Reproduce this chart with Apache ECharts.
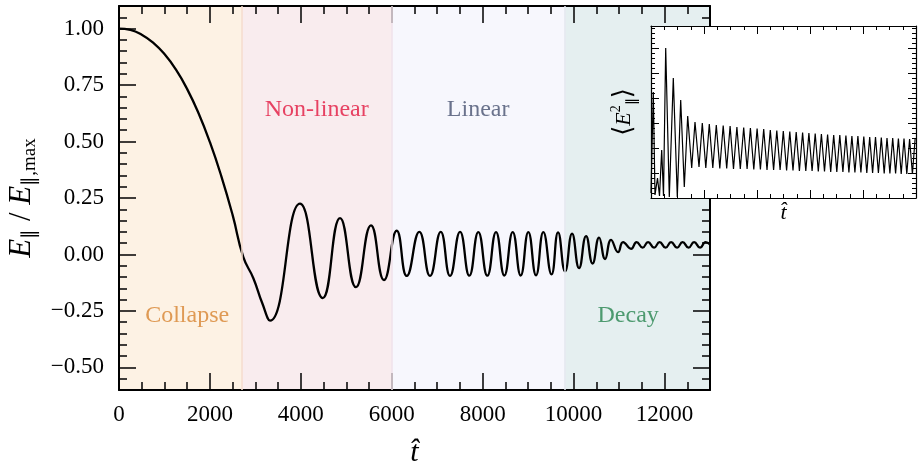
<!DOCTYPE html>
<html>
<head>
<meta charset="utf-8">
<script src="https://cdn.jsdelivr.net/npm/echarts@6/dist/echarts.min.js"></script>
<style>html,body{margin:0;padding:0;background:#fff;}</style>
</head>
<body>
<div id="main" style="width:924px;height:470px;"></div>
<script type="text/javascript">
// main curve E_par / E_par,max against t (extrema + a few shape points)
var tMain = [0, 250, 500, 750, 1000, 1250, 1500, 1750, 2000, 2250, 2500, 2735, 2955, 3150, 3322,
    3982, 4481, 4862, 5213, 5543, 5829, 6109, 6329, 6606, 6841, 7077, 7281,
    7502, 7706, 7904, 8102, 8293, 8476, 8660, 8836, 9004, 9173, 9334, 9514,
    9658, 9812, 9966, 10120, 10274, 10417, 10560, 10692, 10824, 10978, 11088,
    11264, 11385, 11517, 11638, 11770, 11891, 12023, 12144, 12276, 12397,
    12529, 12650, 12782, 12903, 13000];
var eMain = [1.0, 0.994, 0.973, 0.938, 0.887, 0.819, 0.732, 0.625, 0.497, 0.347, 0.174, -0.012, -0.105, -0.215, -0.293,
    0.225, -0.193, 0.161, -0.145, 0.129, -0.113, 0.105, -0.095, 0.100, -0.095, 0.100, -0.095,
    0.100, -0.094, 0.099, -0.094, 0.099, -0.093, 0.099, -0.093, 0.099, -0.092, 0.099, -0.088,
    0.098, -0.075, 0.092, -0.06, 0.081, -0.04, 0.075, -0.02, 0.065, 0.01, 0.055,
    0.025, 0.055, 0.03, 0.055, 0.03, 0.055, 0.03, 0.055, 0.03, 0.055,
    0.03, 0.055, 0.03, 0.055, 0.045];

// inset <E_par^2> against t, arbitrary units (no tick labels on the inset)
var tInset = [0, 2.3, 4, 6.5, 8.5, 10.7, 12.5, 14.7, 18.3, 22.3, 26.3, 29.7, 33.3, 36.7, 40.7, 44, 48,
    51.3, 54.8, 58.3, 61.8, 65.3, 68.8, 72.2, 75.7, 79.1, 82.5, 85.9, 89.3, 92.7, 96.1,
    99.4, 102.8, 106.1, 109.4, 112.7, 116, 119.3, 122.6, 125.8, 129.1, 132.3, 135.6,
    138.8, 142, 145.2, 148.4, 151.6, 154.8, 157.9, 161.1, 164.2, 167.3, 170.4, 173.5,
    176.6, 179.7, 182.7, 185.8, 188.8, 191.9, 194.9, 197.9, 200.9, 203.9, 206.9, 209.9,
    212.8, 215.8, 218.7, 221.6, 224.5, 227.4, 230.3, 233.2, 236, 238.9, 241.7, 244.6,
    247.4, 250.2, 253, 255.8, 258.6, 261.4, 264.1];
var eInset = [5, 106, 3, 20, 2, 48, 2, 150, 1, 120, 1, 98, 11, 82, 30, 76, 31,
    75, 30, 74, 30, 73, 29.5, 72.5, 29.5, 72, 29, 71, 29, 70.5, 29,
    70, 28.5, 69.5, 28.5, 69, 28, 68, 28, 67.5, 28, 67, 27.5,
    66.5, 27.5, 66, 27, 65.5, 27, 65, 27, 64.5, 26.5, 64, 26.5,
    63.5, 26, 63, 26, 63, 26, 62.5, 25.5, 62, 25.5, 62, 25.5,
    61.5, 25, 61, 25, 61, 25, 60.5, 24.5, 60, 24.5, 60, 24.5,
    59.5, 24, 59.5, 24, 59, 24, 59];

var phaseNames = ['Collapse', 'Non-linear', 'Linear', 'Decay'];
var phaseFrom = [0, 2700, 6000, 9800];
var phaseTo = [2700, 6000, 9800, 13000];
var phaseLabelT = [1500, 4350, 7900, 11200];
var phaseLabelE = [-0.27, 0.64, 0.64, -0.27];
var phaseFill = ['#fdf2e4', '#f9ecee', '#f7f7fd', '#e5eff0'];
var phaseEdge = ['#f6dccc', '#f1e2ea', '#e6e8f0', '#e5eff0'];
var phaseText = ['#d7832f', '#e2173f', '#46506f', '#27844f'];

var xTicks = [0, 2000, 4000, 6000, 8000, 10000, 12000];
var yTicks = [-0.5, -0.25, 0, 0.25, 0.5, 0.75, 1.0];

var serif = 'Liberation Serif';
var myChart = echarts.init(document.getElementById('main'));

function mainX(pos, minor) {
    return {
        type: 'value', gridIndex: 0, position: pos, min: 0, max: 13000,
        interval: minor ? 500 : 2000, z: 3,
        name: (pos === 'bottom' && !minor) ? 't\u0302' : '',
        nameLocation: 'middle', nameGap: 48,
        nameTextStyle: {fontFamily: serif, fontStyle: 'italic', fontSize: 30, color: '#000'},
        axisLine: {show: !minor, onZero: false, lineStyle: {color: '#000', width: 2}},
        axisTick: {show: true, inside: true, length: minor ? 8 : 17,
            lineStyle: {color: '#000', width: 1.5}, customValues: minor ? null : xTicks},
        axisLabel: {show: pos === 'bottom' && !minor, customValues: xTicks, margin: 13,
            fontFamily: serif, fontSize: 23, color: '#000',
            formatter: function (v) { return String(v); }},
        splitLine: {show: false}
    };
}

function mainY(pos, minor) {
    return {
        type: 'value', gridIndex: 0, position: pos, min: -0.6, max: 1.1,
        interval: minor ? 0.05 : 0.25, z: 3,
        name: (pos === 'left' && !minor) ? '{i|E}{s|\u2225}{n| / }{i|E}{s|\u2225,max}' : '',
        nameLocation: 'middle', nameGap: 78, nameRotate: 90,
        nameTextStyle: {
            rich: {
                i: {fontFamily: serif, fontStyle: 'italic', fontSize: 31, lineHeight: 36, color: '#000'},
                n: {fontFamily: serif, fontSize: 31, lineHeight: 36, color: '#000'},
                s: {fontFamily: serif, fontSize: 19, lineHeight: 14, verticalAlign: 'bottom', color: '#000'}
            }
        },
        axisLine: {show: !minor, onZero: false, lineStyle: {color: '#000', width: 2}},
        axisTick: {show: true, inside: true, length: minor ? 8 : 17,
            lineStyle: {color: '#000', width: 1.5}, customValues: minor ? null : yTicks},
        axisLabel: {show: pos === 'left' && !minor, customValues: yTicks, margin: 15,
            fontFamily: serif, fontSize: 23, color: '#000',
            formatter: function (v) { return (v < 0 ? '\u2212' : '') + Math.abs(v).toFixed(2); }},
        splitLine: {show: false}
    };
}

function insetX(pos) {
    return {
        type: 'value', gridIndex: 1, position: pos, min: 0, max: 265, interval: 53, z: 6,
        name: pos === 'bottom' ? 't\u0302' : '', nameLocation: 'middle', nameGap: 4,
        nameTextStyle: {fontFamily: serif, fontStyle: 'italic', fontSize: 22, color: '#000', verticalAlign: 'top'},
        axisLine: {show: true, onZero: false, lineStyle: {color: '#000', width: 1.2}},
        axisTick: {show: true, inside: true, length: 8, lineStyle: {color: '#000', width: 1}},
        minorTick: {show: true, splitNumber: 4, length: 4, lineStyle: {color: '#000', width: 1}},
        axisLabel: {show: false}, splitLine: {show: false}
    };
}

function insetY(pos) {
    return {
        type: 'value', gridIndex: 1, position: pos, min: 0, max: 172, interval: 25, z: 6,
        name: pos === 'left' ? '{b|\u27e8}{i|E}{p|2}{s|\u2225}{b|\u27e9}' : '',
        nameLocation: 'middle', nameGap: 12, nameRotate: 90,
        nameTextStyle: {
            rich: {
                b: {fontFamily: 'DejaVu Serif', fontSize: 26, lineHeight: 30, color: '#000'},
                i: {fontFamily: serif, fontStyle: 'italic', fontSize: 22, lineHeight: 30, color: '#000'},
                p: {fontFamily: serif, fontSize: 14, lineHeight: 30, verticalAlign: 'top', color: '#000'},
                s: {fontFamily: serif, fontSize: 14, lineHeight: 12, verticalAlign: 'bottom', color: '#000'}
            }
        },
        axisLine: {show: true, onZero: false, lineStyle: {color: '#000', width: 1.2}},
        axisTick: {show: true, inside: true, length: 8, lineStyle: {color: '#000', width: 1}},
        minorTick: {show: true, splitNumber: 5, length: 4, lineStyle: {color: '#000', width: 1}},
        axisLabel: {show: false}, splitLine: {show: false}
    };
}

var mainData = tMain.map(function (t, i) { return [t, eMain[i]]; });
var insetData = tInset.map(function (t, i) { return [t, eInset[i]]; });

var areas = phaseNames.map(function (n, i) {
    return [{xAxis: phaseFrom[i], itemStyle: {color: phaseFill[i]}}, {xAxis: phaseTo[i]}];
});
var edges = phaseFrom.slice(1).map(function (t, i) {
    return {xAxis: t, lineStyle: {color: phaseEdge[i], width: 1.5, type: 'solid'}};
});
var labels = phaseNames.map(function (n, i) {
    return {value: [phaseLabelT[i], phaseLabelE[i]], name: n, label: {color: phaseText[i]}};
});

var option = {
    animation: false,
    grid: [
        {left: 119, top: 6, right: 214, bottom: 80, show: false, outerBoundsMode: 'none'},
        {left: 651, top: 26, width: 265, height: 172, show: true, backgroundColor: '#fff',
            borderWidth: 0, z: 5, outerBoundsMode: 'none'}
    ],
    xAxis: [mainX('bottom', false), mainX('top', false), mainX('bottom', true), mainX('top', true),
        insetX('bottom'), insetX('top')],
    yAxis: [mainY('left', false), mainY('right', false), mainY('left', true), mainY('right', true),
        insetY('left'), insetY('right')],
    series: [
        {
            type: 'line', xAxisIndex: 0, yAxisIndex: 0, data: mainData, smooth: 0.5,
            showSymbol: false, z: 2,
            lineStyle: {color: '#000', width: 2.3},
            markArea: {silent: true, label: {show: false}, data: areas},
            markLine: {silent: true, symbol: 'none', label: {show: false}, data: edges}
        },
        {
            type: 'scatter', xAxisIndex: 0, yAxisIndex: 0, data: labels, symbolSize: 0, z: 2,
            label: {show: true, position: 'inside', formatter: '{b}', fontFamily: serif, fontSize: 24}
        },
        {
            type: 'line', xAxisIndex: 4, yAxisIndex: 4, data: insetData, showSymbol: false, z: 7,
            lineStyle: {color: '#000', width: 1.2}
        }
    ]
};
myChart.setOption(option);
</script>
</body>
</html>
